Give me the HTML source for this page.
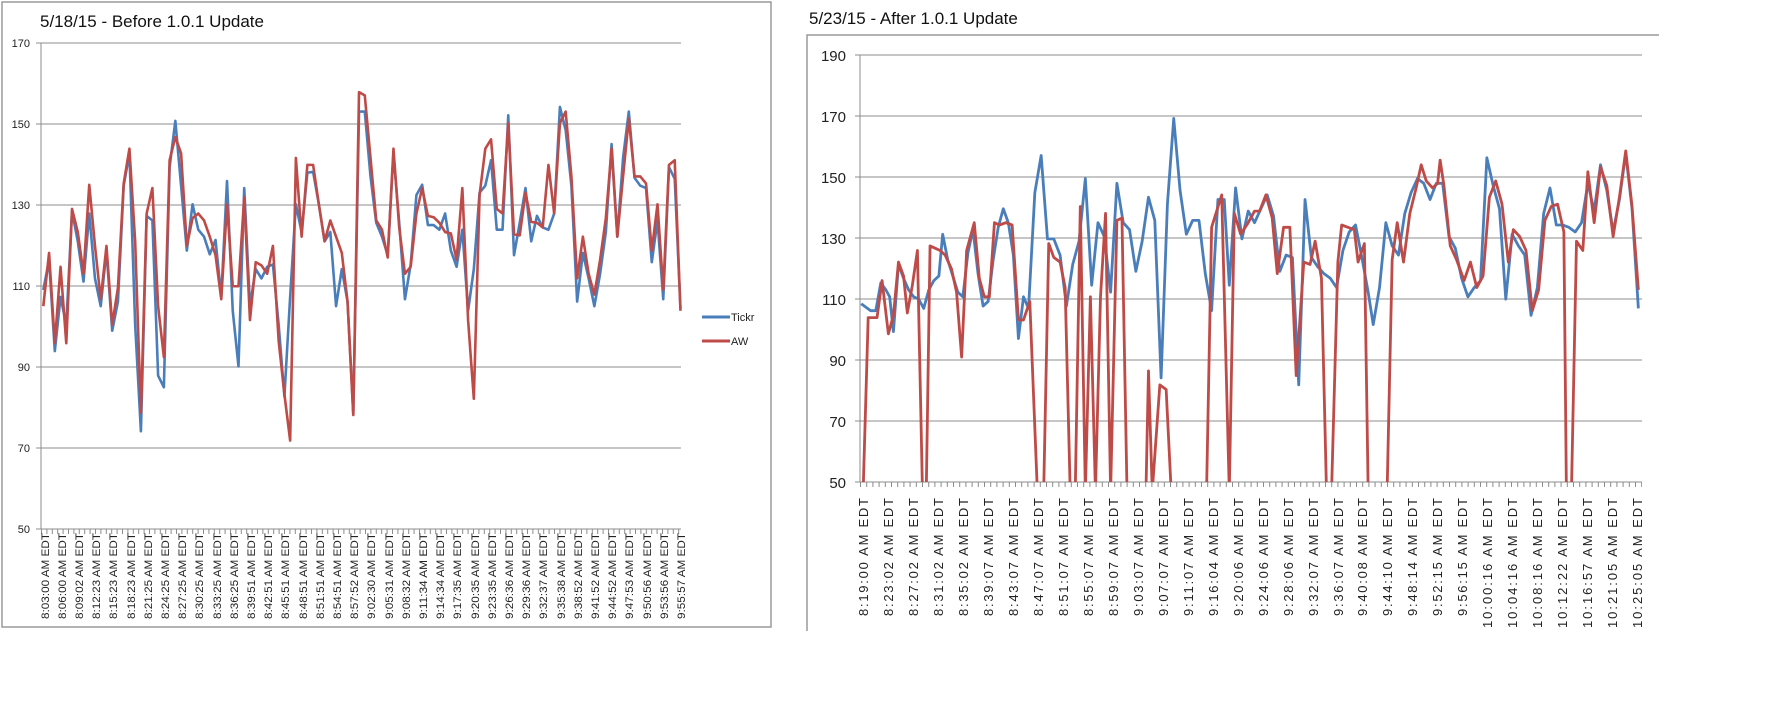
<!DOCTYPE html>
<html><head><meta charset="utf-8"><style>
html,body{margin:0;padding:0;background:#fff;}
svg{display:block;font-family:"Liberation Sans",sans-serif;}
</style></head><body>
<svg width="1790" height="726" viewBox="0 0 1790 726" xmlns="http://www.w3.org/2000/svg">
<defs>
<clipPath id="cl"><rect x="41" y="30" width="645" height="500"/></clipPath>
<clipPath id="cr"><rect x="860" y="40" width="790" height="442"/></clipPath>
</defs>
<!-- LEFT CHART -->
<path d="M2,2 H771 V627 H2 Z" fill="none" stroke="#9a9a9a" stroke-width="1.5"/>
<text x="40" y="27" font-size="17" fill="#111">5/18/15 - Before 1.0.1 Update</text>
<g stroke="#8c8c8c" stroke-width="1">
<line x1="36" y1="43" x2="681" y2="43"/><line x1="36" y1="124" x2="681" y2="124"/>
<line x1="36" y1="205" x2="681" y2="205"/><line x1="36" y1="286" x2="681" y2="286"/>
<line x1="36" y1="367" x2="681" y2="367"/><line x1="36" y1="448" x2="681" y2="448"/>
<line x1="36" y1="529" x2="681" y2="529"/><line x1="41" y1="43" x2="41" y2="529"/>
</g>
<line x1="41" y1="531.5" x2="681" y2="531.5" stroke="#8c8c8c" stroke-width="5" stroke-dasharray="1,4.4"/>
<g font-size="11" fill="#222" text-anchor="end">
<text x="30" y="47">170</text><text x="30" y="128">150</text><text x="30" y="209">130</text>
<text x="30" y="290">110</text><text x="30" y="371">90</text><text x="30" y="452">70</text><text x="30" y="533">50</text>
</g>
<g font-size="11" fill="#222" text-anchor="end" id="ll"></g>
<g clip-path="url(#cl)" fill="none" stroke-width="2.6" stroke-linejoin="round">
<g transform="translate(-0.3,0.4) scale(0.574,0.4633)">
<polyline vector-effect="non-scaling-stroke" stroke="#4a7ebb" points="76,625 86,560 96,757 106,640 116,700 126,455 136,520 146,607 156,460 166,600 176,660 186,540 196,713 206,650 216,400 226,330 236,700 246,930 256,465 266,475 276,810 286,835 296,360 306,260 316,400 326,540 336,440 346,495 356,510 366,548 376,517 386,640 396,390 406,670 416,790 426,405 436,660 446,580 456,600 466,575 476,570 486,700 496,855 506,640 516,440 526,500 536,372 546,370 556,440 566,520 576,500 586,660 596,580 606,650 616,893 626,240 636,240 646,380 656,480 666,510 676,550 686,330 696,480 706,645 716,570 726,420 736,398 746,485 756,485 766,495 776,460 786,540 796,575 806,495 816,670 826,580 836,415 846,400 856,345 866,495 876,495 886,248 896,550 906,480 916,405 926,520 936,465 946,490 956,495 966,460 976,230 986,280 996,400 1006,650 1016,545 1026,600 1036,660 1046,590 1056,500 1066,310 1076,510 1086,340 1096,240 1106,383 1116,400 1126,405 1136,565 1146,475 1156,645 1166,360 1176,385 1186,665"/>
<polyline vector-effect="non-scaling-stroke" stroke="#be4b48" points="76,660 86,545 96,740 106,575 116,740 126,450 136,500 146,590 156,398 166,530 176,645 186,530 196,700 206,620 216,395 226,320 236,520 246,890 256,460 266,405 276,660 286,770 296,345 306,295 316,330 326,530 336,470 346,460 356,475 366,510 376,550 386,645 396,440 406,617 416,617 426,425 436,690 446,565 456,572 466,590 476,530 486,735 496,850 506,950 516,340 526,510 536,355 546,355 556,440 566,520 576,475 586,510 596,545 606,650 616,895 626,198 636,205 646,340 656,475 666,495 676,555 686,320 696,490 706,590 716,575 726,460 736,405 746,465 756,468 766,480 776,500 786,503 796,560 806,405 816,690 826,860 836,420 846,320 856,300 866,450 876,460 886,265 896,505 906,507 916,415 926,478 936,480 946,490 956,355 966,460 976,265 986,240 996,380 1006,600 1016,510 1026,590 1036,635 1046,560 1056,470 1066,320 1076,510 1086,380 1096,255 1106,380 1116,380 1126,395 1136,540 1146,440 1156,625 1166,355 1176,345 1186,670"/>
</g></g>
<line x1="702" y1="317" x2="730" y2="317" stroke="#4a7ebb" stroke-width="3"/>
<line x1="702" y1="341" x2="730" y2="341" stroke="#be4b48" stroke-width="3"/>
<text x="731" y="321" font-size="11" fill="#222">Tickr</text>
<text x="731" y="345" font-size="11" fill="#222">AW</text>

<!-- RIGHT CHART -->
<path d="M807,631 V35 H1659" fill="none" stroke="#9a9a9a" stroke-width="1.5"/>
<text x="809" y="24" font-size="17" fill="#111">5/23/15 - After 1.0.1 Update</text>
<g stroke="#8c8c8c" stroke-width="1">
<line x1="855" y1="55" x2="1642" y2="55"/><line x1="855" y1="116" x2="1642" y2="116"/>
<line x1="855" y1="177" x2="1642" y2="177"/><line x1="855" y1="238" x2="1642" y2="238"/>
<line x1="855" y1="299" x2="1642" y2="299"/><line x1="855" y1="360" x2="1642" y2="360"/>
<line x1="855" y1="421" x2="1642" y2="421"/><line x1="855" y1="482" x2="1642" y2="482"/>
<line x1="860" y1="55" x2="860" y2="482"/>
</g>
<line x1="860" y1="484.5" x2="1642" y2="484.5" stroke="#8c8c8c" stroke-width="5" stroke-dasharray="1,5.2"/>
<g font-size="15" fill="#222" text-anchor="end">
<text x="846" y="61">190</text><text x="846" y="122">170</text><text x="846" y="183">150</text><text x="846" y="244">130</text>
<text x="846" y="305">110</text><text x="846" y="366">90</text><text x="846" y="427">70</text><text x="846" y="488">50</text>
</g>
<g font-size="13" fill="#222" text-anchor="end" id="rl"></g>
<g clip-path="url(#cr)" fill="none" stroke-width="2.8" stroke-linejoin="round">
<g transform="translate(800,0.3) scale(0.6313,0.4633)">
<polyline vector-effect="non-scaling-stroke" stroke="#4a7ebb" points="97,655 105,663 112,670 120,670 128,610 136,625 142,640 148,715 156,570 164,600 172,625 180,640 188,645 196,665 204,625 212,605 220,595 226,505 234,560 242,595 250,630 258,640 266,545 274,495 282,590 290,660 298,650 306,560 314,490 322,450 330,480 338,550 346,730 354,640 362,665 372,415 382,335 392,515 402,515 412,550 422,660 432,570 442,520 452,385 462,615 472,480 482,510 492,630 502,395 512,480 522,495 532,585 542,520 552,425 562,475 572,815 582,440 592,255 602,410 612,505 622,475 632,475 642,590 652,670 662,430 672,430 680,615 690,405 700,515 710,455 720,480 730,450 740,420 750,465 760,585 770,550 780,555 790,830 800,430 810,555 820,575 830,590 840,600 850,620 860,540 870,500 880,485 890,555 900,630 908,700 918,620 928,480 938,530 948,550 958,460 968,415 978,385 988,395 998,430 1008,395 1018,395 1028,510 1038,535 1048,600 1058,640 1068,620 1078,605 1088,340 1098,400 1108,450 1118,645 1128,505 1138,530 1148,550 1158,680 1168,620 1178,460 1188,405 1198,485 1208,485 1218,490 1228,500 1238,480 1248,395 1258,455 1268,355 1278,410 1288,500 1298,430 1308,330 1318,450 1328,665"/>
<polyline vector-effect="non-scaling-stroke" stroke="#be4b48" points="100,1060 108,685 115,685 122,685 130,605 140,720 148,680 156,565 164,595 170,675 178,615 186,540 194,1060 200,1060 206,530 214,535 222,540 230,550 240,580 248,630 256,770 264,540 276,480 284,600 292,640 300,640 308,480 316,485 326,480 336,485 346,690 354,690 364,650 376,1060 386,1060 394,525 402,555 412,565 420,620 428,1060 436,1060 444,445 452,1060 460,640 468,1060 476,640 484,460 492,1060 502,475 510,470 518,1060 548,1060 552,800 558,1060 570,830 580,840 588,1060 644,1060 652,490 668,420 680,1060 688,460 698,505 710,480 720,455 728,455 738,420 748,470 756,590 766,490 776,490 786,810 798,565 808,570 816,520 826,600 834,1060 842,1060 852,565 858,485 868,490 878,495 884,565 894,525 900,1060 930,1060 938,560 946,480 956,565 966,460 976,405 984,355 992,390 1002,405 1010,395 1014,345 1020,400 1030,530 1040,560 1052,605 1062,565 1072,620 1082,595 1092,425 1102,390 1112,440 1122,565 1130,495 1140,510 1150,540 1160,670 1170,625 1180,475 1190,445 1200,440 1210,500 1214,1060 1222,1060 1230,520 1240,540 1248,370 1258,480 1268,360 1278,400 1288,510 1298,425 1308,325 1318,445 1328,625"/>
</g></g>

<!-- x labels -->
<g font-size="11" fill="#222" text-anchor="end">
<text transform="translate(49,533) rotate(-90)" textLength="86" lengthAdjust="spacingAndGlyphs">8:03:00 AM EDT</text>
<text transform="translate(66,533) rotate(-90)" textLength="86" lengthAdjust="spacingAndGlyphs">8:06:00 AM EDT</text>
<text transform="translate(83,533) rotate(-90)" textLength="86" lengthAdjust="spacingAndGlyphs">8:09:02 AM EDT</text>
<text transform="translate(100,533) rotate(-90)" textLength="86" lengthAdjust="spacingAndGlyphs">8:12:23 AM EDT</text>
<text transform="translate(117,533) rotate(-90)" textLength="86" lengthAdjust="spacingAndGlyphs">8:15:23 AM EDT</text>
<text transform="translate(135,533) rotate(-90)" textLength="86" lengthAdjust="spacingAndGlyphs">8:18:23 AM EDT</text>
<text transform="translate(152,533) rotate(-90)" textLength="86" lengthAdjust="spacingAndGlyphs">8:21:25 AM EDT</text>
<text transform="translate(169,533) rotate(-90)" textLength="86" lengthAdjust="spacingAndGlyphs">8:24:25 AM EDT</text>
<text transform="translate(186,533) rotate(-90)" textLength="86" lengthAdjust="spacingAndGlyphs">8:27:25 AM EDT</text>
<text transform="translate(203,533) rotate(-90)" textLength="86" lengthAdjust="spacingAndGlyphs">8:30:25 AM EDT</text>
<text transform="translate(221,533) rotate(-90)" textLength="86" lengthAdjust="spacingAndGlyphs">8:33:25 AM EDT</text>
<text transform="translate(238,533) rotate(-90)" textLength="86" lengthAdjust="spacingAndGlyphs">8:36:25 AM EDT</text>
<text transform="translate(255,533) rotate(-90)" textLength="86" lengthAdjust="spacingAndGlyphs">8:39:51 AM EDT</text>
<text transform="translate(272,533) rotate(-90)" textLength="86" lengthAdjust="spacingAndGlyphs">8:42:51 AM EDT</text>
<text transform="translate(289,533) rotate(-90)" textLength="86" lengthAdjust="spacingAndGlyphs">8:45:51 AM EDT</text>
<text transform="translate(307,533) rotate(-90)" textLength="86" lengthAdjust="spacingAndGlyphs">8:48:51 AM EDT</text>
<text transform="translate(324,533) rotate(-90)" textLength="86" lengthAdjust="spacingAndGlyphs">8:51:51 AM EDT</text>
<text transform="translate(341,533) rotate(-90)" textLength="86" lengthAdjust="spacingAndGlyphs">8:54:51 AM EDT</text>
<text transform="translate(358,533) rotate(-90)" textLength="86" lengthAdjust="spacingAndGlyphs">8:57:52 AM EDT</text>
<text transform="translate(375,533) rotate(-90)" textLength="86" lengthAdjust="spacingAndGlyphs">9:02:30 AM EDT</text>
<text transform="translate(393,533) rotate(-90)" textLength="86" lengthAdjust="spacingAndGlyphs">9:05:31 AM EDT</text>
<text transform="translate(410,533) rotate(-90)" textLength="86" lengthAdjust="spacingAndGlyphs">9:08:32 AM EDT</text>
<text transform="translate(427,533) rotate(-90)" textLength="86" lengthAdjust="spacingAndGlyphs">9:11:34 AM EDT</text>
<text transform="translate(444,533) rotate(-90)" textLength="86" lengthAdjust="spacingAndGlyphs">9:14:34 AM EDT</text>
<text transform="translate(461,533) rotate(-90)" textLength="86" lengthAdjust="spacingAndGlyphs">9:17:35 AM EDT</text>
<text transform="translate(479,533) rotate(-90)" textLength="86" lengthAdjust="spacingAndGlyphs">9:20:35 AM EDT</text>
<text transform="translate(496,533) rotate(-90)" textLength="86" lengthAdjust="spacingAndGlyphs">9:23:35 AM EDT</text>
<text transform="translate(513,533) rotate(-90)" textLength="86" lengthAdjust="spacingAndGlyphs">9:26:36 AM EDT</text>
<text transform="translate(530,533) rotate(-90)" textLength="86" lengthAdjust="spacingAndGlyphs">9:29:36 AM EDT</text>
<text transform="translate(547,533) rotate(-90)" textLength="86" lengthAdjust="spacingAndGlyphs">9:32:37 AM EDT</text>
<text transform="translate(565,533) rotate(-90)" textLength="86" lengthAdjust="spacingAndGlyphs">9:35:38 AM EDT</text>
<text transform="translate(582,533) rotate(-90)" textLength="86" lengthAdjust="spacingAndGlyphs">9:38:52 AM EDT</text>
<text transform="translate(599,533) rotate(-90)" textLength="86" lengthAdjust="spacingAndGlyphs">9:41:52 AM EDT</text>
<text transform="translate(616,533) rotate(-90)" textLength="86" lengthAdjust="spacingAndGlyphs">9:44:52 AM EDT</text>
<text transform="translate(633,533) rotate(-90)" textLength="86" lengthAdjust="spacingAndGlyphs">9:47:53 AM EDT</text>
<text transform="translate(651,533) rotate(-90)" textLength="86" lengthAdjust="spacingAndGlyphs">9:50:56 AM EDT</text>
<text transform="translate(668,533) rotate(-90)" textLength="86" lengthAdjust="spacingAndGlyphs">9:53:56 AM EDT</text>
<text transform="translate(685,533) rotate(-90)" textLength="86" lengthAdjust="spacingAndGlyphs">9:55:57 AM EDT</text>
</g>
<g font-size="13" fill="#222" text-anchor="end">
<text transform="translate(868,498) rotate(-90)" textLength="118" lengthAdjust="spacing">8:19:00 AM EDT</text>
<text transform="translate(893,498) rotate(-90)" textLength="118" lengthAdjust="spacing">8:23:02 AM EDT</text>
<text transform="translate(918,498) rotate(-90)" textLength="118" lengthAdjust="spacing">8:27:02 AM EDT</text>
<text transform="translate(943,498) rotate(-90)" textLength="118" lengthAdjust="spacing">8:31:02 AM EDT</text>
<text transform="translate(968,498) rotate(-90)" textLength="118" lengthAdjust="spacing">8:35:02 AM EDT</text>
<text transform="translate(993,498) rotate(-90)" textLength="118" lengthAdjust="spacing">8:39:07 AM EDT</text>
<text transform="translate(1018,498) rotate(-90)" textLength="118" lengthAdjust="spacing">8:43:07 AM EDT</text>
<text transform="translate(1043,498) rotate(-90)" textLength="118" lengthAdjust="spacing">8:47:07 AM EDT</text>
<text transform="translate(1068,498) rotate(-90)" textLength="118" lengthAdjust="spacing">8:51:07 AM EDT</text>
<text transform="translate(1093,498) rotate(-90)" textLength="118" lengthAdjust="spacing">8:55:07 AM EDT</text>
<text transform="translate(1118,498) rotate(-90)" textLength="118" lengthAdjust="spacing">8:59:07 AM EDT</text>
<text transform="translate(1143,498) rotate(-90)" textLength="118" lengthAdjust="spacing">9:03:07 AM EDT</text>
<text transform="translate(1168,498) rotate(-90)" textLength="118" lengthAdjust="spacing">9:07:07 AM EDT</text>
<text transform="translate(1193,498) rotate(-90)" textLength="118" lengthAdjust="spacing">9:11:07 AM EDT</text>
<text transform="translate(1218,498) rotate(-90)" textLength="118" lengthAdjust="spacing">9:16:04 AM EDT</text>
<text transform="translate(1243,498) rotate(-90)" textLength="118" lengthAdjust="spacing">9:20:06 AM EDT</text>
<text transform="translate(1268,498) rotate(-90)" textLength="118" lengthAdjust="spacing">9:24:06 AM EDT</text>
<text transform="translate(1293,498) rotate(-90)" textLength="118" lengthAdjust="spacing">9:28:06 AM EDT</text>
<text transform="translate(1318,498) rotate(-90)" textLength="118" lengthAdjust="spacing">9:32:07 AM EDT</text>
<text transform="translate(1343,498) rotate(-90)" textLength="118" lengthAdjust="spacing">9:36:07 AM EDT</text>
<text transform="translate(1367,498) rotate(-90)" textLength="118" lengthAdjust="spacing">9:40:08 AM EDT</text>
<text transform="translate(1392,498) rotate(-90)" textLength="118" lengthAdjust="spacing">9:44:10 AM EDT</text>
<text transform="translate(1417,498) rotate(-90)" textLength="118" lengthAdjust="spacing">9:48:14 AM EDT</text>
<text transform="translate(1442,498) rotate(-90)" textLength="118" lengthAdjust="spacing">9:52:15 AM EDT</text>
<text transform="translate(1467,498) rotate(-90)" textLength="118" lengthAdjust="spacing">9:56:15 AM EDT</text>
<text transform="translate(1492,498) rotate(-90)" textLength="130" lengthAdjust="spacing">10:00:16 AM EDT</text>
<text transform="translate(1517,498) rotate(-90)" textLength="130" lengthAdjust="spacing">10:04:16 AM EDT</text>
<text transform="translate(1542,498) rotate(-90)" textLength="130" lengthAdjust="spacing">10:08:16 AM EDT</text>
<text transform="translate(1567,498) rotate(-90)" textLength="130" lengthAdjust="spacing">10:12:22 AM EDT</text>
<text transform="translate(1592,498) rotate(-90)" textLength="130" lengthAdjust="spacing">10:16:57 AM EDT</text>
<text transform="translate(1617,498) rotate(-90)" textLength="130" lengthAdjust="spacing">10:21:05 AM EDT</text>
<text transform="translate(1642,498) rotate(-90)" textLength="130" lengthAdjust="spacing">10:25:05 AM EDT</text>
</g>
</svg>
</body></html>
